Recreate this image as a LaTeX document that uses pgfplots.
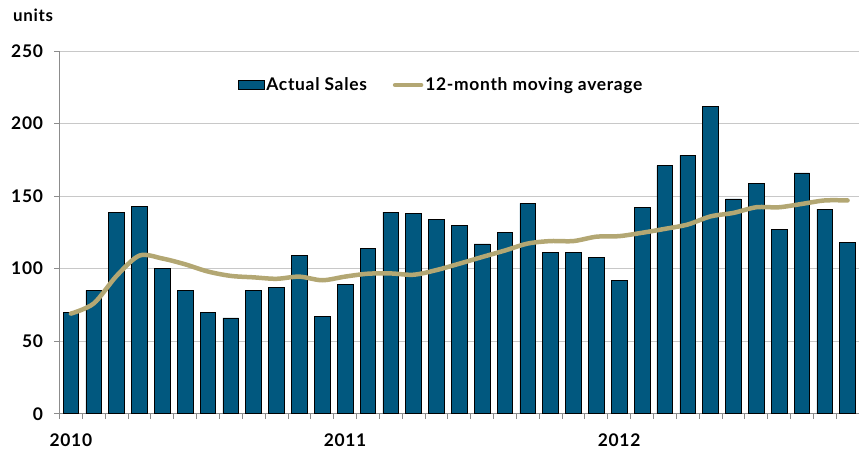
\documentclass[border=0pt]{standalone}
\usepackage{fontspec}
\setmainfont{Lato}
\newfontfamily\legfont{Lato}[LetterSpace=4]
\usepackage{pgfplots}
\pgfplotsset{compat=1.18}
\definecolor{barblue}{HTML}{01587F}
\definecolor{avgtan}{HTML}{B3A773}
\definecolor{gridgray}{HTML}{C8C8C8}
\definecolor{axisgray}{HTML}{8C8C8C}
\begin{document}
\begin{tikzpicture}
\begin{axis}[
  scale only axis,
  width=800bp, height=363bp,
  xmin=0.5, xmax=35.5,
  ymin=0, ymax=250,
  ytick={0,50,...,250},
  ymajorgrids,
  grid style={gridgray, line width=0.8bp},
  axis x line*=bottom,
  axis y line*=left,
  axis line style={axisgray, line width=0.8bp},
  tick style={axisgray, line width=0.8bp},
  tick align=outside,
  major tick length=5bp,
  minor tick length=5bp,
  xtick={1,13,25},
  xticklabels={2010,2011,2012},
  x tick style={draw=none},
  minor xtick={0.5,1.5,...,35.5},
  minor x tick style={axisgray, line width=0.8bp, draw=axisgray},
  xticklabel style={yshift=-11bp},
  yticklabel style={xshift=-8bp},
  /pgf/number format/assume math mode=true,
  tick label style={font=\legfont\fontsize{17.5}{20}\selectfont\bfseries},
  clip=false,
  legend style={draw=none, fill=none, at={(0.4775,0.906)}, anchor=center,
    font=\legfont\fontsize{17.5}{20}\selectfont\bfseries, legend columns=2,
    /tikz/every even column/.append style={column sep=24bp}},
  legend cell align=left,
]
\addplot[ybar, bar width=15.7bp, fill=barblue, draw=black, line width=0.6bp,
  area legend, legend image code/.code={\fill[barblue,draw=black,line width=0.4bp] (0bp,-4.5bp) rectangle (26bp,4.5bp);}]
coordinates {
(1,70) (2,85) (3,139) (4,143) (5,100) (6,85) (7,70) (8,66) (9,85) (10,87) (11,109) (12,67)
(13,89) (14,114) (15,139) (16,138) (17,134) (18,130) (19,117) (20,125) (21,145) (22,111) (23,111) (24,108)
(25,92) (26,142) (27,171) (28,178) (29,212) (30,148) (31,159) (32,127) (33,166) (34,141) (35,118)
};
\addlegendentry{Actual Sales}
\addplot[avgtan, line width=4.5bp, smooth, line cap=round,
  legend image code/.code={\draw[avgtan,line width=4.5bp] (0bp,0bp) -- (26bp,0bp);}]
coordinates {
(1,69) (2,76) (3,95) (4,109) (5,107) (6,103) (7,98) (8,95) (9,94) (10,93) (11,94.5) (12,92)
(13,94.5) (14,96.5) (15,96.7) (16,95.8) (17,99) (18,103.4) (19,108) (20,112.5) (21,117.3) (22,119) (23,119) (24,122)
(25,122.4) (26,124.7) (27,127.4) (28,130.4) (29,136) (30,138.4) (31,142.3) (32,142.3) (33,144.6) (34,147) (35,147)
};
\addlegendentry{12-month moving average}
\node[anchor=west, font=\legfont\fontsize{17}{20}\selectfont\bfseries, inner sep=0pt]
  at ([shift={(-46.5bp,36bp)}]rel axis cs:0,1) {units};
\end{axis}
\pgfresetboundingbox
\path ([shift={(-59.5bp,-37bp)}]current axis.south west) rectangle ([shift={(0bp,51bp)}]current axis.north east);
\end{tikzpicture}
\end{document}
